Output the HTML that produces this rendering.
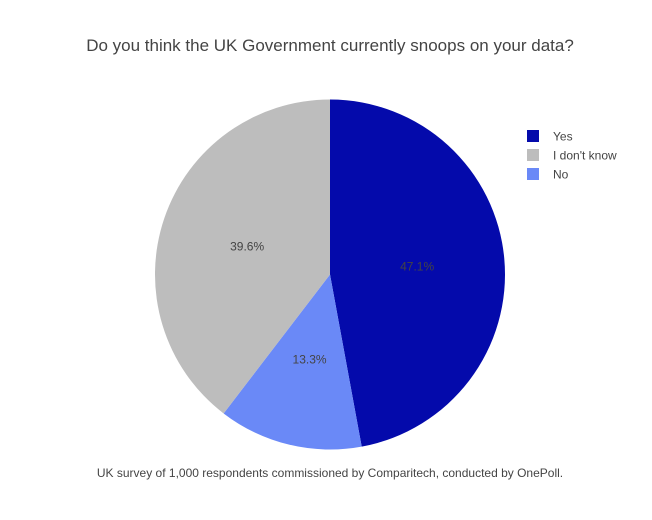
<!DOCTYPE html>
<html><head><meta charset="utf-8">
<style>
body{margin:0;background:#fff;}
svg{font-family:"Liberation Sans",sans-serif;}
</style></head>
<body>
<svg id="chart" width="652" height="515">
<rect width="652" height="515" fill="#fff"/>
<text x="330" y="51" text-anchor="middle" font-size="17" fill="#444">Do you think the UK Government currently snoops on your data?</text>
<g id="slices"></g>
<g id="legend"></g>
<text x="330" y="477" text-anchor="middle" font-size="12" fill="#444">UK survey of 1,000 respondents commissioned by Comparitech, conducted by OnePoll.</text>
</svg>
<script>
const categories=["Yes","No","I don't know"];
const values=[47.1,13.3,39.6];
const colors=["#040aab","#6a89f7","#bdbdbd"];
const legendOrder=["Yes","I don't know","No"];
const ns="http://www.w3.org/2000/svg";
const cx=330,cy=274.5,r=175;
const total=values.reduce((a,b)=>a+b,0);
const g=document.getElementById('slices');
let a0=0;
values.forEach((v,i)=>{
  const a1=a0+v/total*2*Math.PI;
  const x0=cx+r*Math.sin(a0),y0=cy-r*Math.cos(a0);
  const x1=cx+r*Math.sin(a1),y1=cy-r*Math.cos(a1);
  const large=(a1-a0)>Math.PI?1:0;
  const p=document.createElementNS(ns,'path');
  p.setAttribute('d',`M${cx},${cy}L${x0},${y0}A${r},${r} 0 ${large} 1 ${x1},${y1}Z`);
  p.setAttribute('fill',colors[i]);
  
  
  g.appendChild(p);
  const am=(a0+a1)/2;
  const t=document.createElementNS(ns,'text');
  t.setAttribute('x',cx+r*0.5*Math.sin(am));
  t.setAttribute('y',cy-r*0.5*Math.cos(am)+4);
  t.setAttribute('text-anchor','middle');
  t.setAttribute('font-size','12');
  t.setAttribute('fill','#444');
  t.textContent=v.toFixed(1)+'%';
  
  
  g.appendChild(t);
  a0=a1;
});
const lg=document.getElementById('legend');
legendOrder.forEach((c,j)=>{
  const i=categories.indexOf(c);
  const y=136+j*19;
  const rc=document.createElementNS(ns,'rect');
  rc.setAttribute('x',527);rc.setAttribute('y',y-6);rc.setAttribute('width',12);rc.setAttribute('height',12);
  rc.setAttribute('fill',colors[i]);
  
  
  lg.appendChild(rc);
  const t=document.createElementNS(ns,'text');
  t.setAttribute('x',553);t.setAttribute('y',y+4.5);
  t.setAttribute('font-size','12');t.setAttribute('fill','#444');
  t.textContent=c;
  
  
  lg.appendChild(t);
});
</script>
</body></html>
